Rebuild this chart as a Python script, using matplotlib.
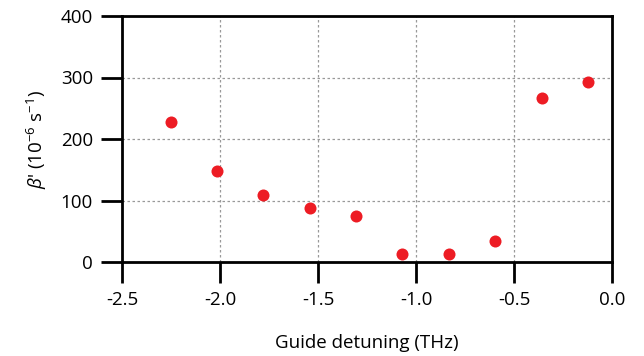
import matplotlib
matplotlib.use("Agg")
import matplotlib.pyplot as plt

detuning = [-2.25, -2.015, -1.779, -1.542, -1.306, -1.07, -0.833, -0.597, -0.359, -0.122]
beta = [228, 148, 109, 87, 75, 12.5, 12.5, 34, 266, 293]
xticks = [-2.5, -2.0, -1.5, -1.0, -0.5, 0.0]
yticks = [0, 100, 200, 300, 400]

plt.rcParams['font.family'] = ['Open Sans', 'DejaVu Sans']
plt.rcParams['mathtext.fontset'] = 'custom'
plt.rcParams['mathtext.rm'] = 'Open Sans'
plt.rcParams['mathtext.it'] = 'Open Sans:italic'

fig = plt.figure(figsize=(6.44, 3.56), dpi=100)
ax = fig.add_axes([122/644, 1-262/356, (612-122)/644, (262-16)/356])
ax.scatter(detuning, beta, s=75, color='#ED1C24', zorder=3, linewidths=0)
ax.set_xlim(-2.5, 0.0)
ax.set_ylim(0, 400)
ax.set_xticks(xticks)
ax.set_xticklabels([f"{t:.1f}" for t in xticks])
ax.set_yticks(yticks)
ax.grid(True, linestyle=(0, (2, 2)), color='#999999', linewidth=0.9)
for s in ax.spines.values():
    s.set_linewidth(2)
ax.tick_params(direction='out', length=15, width=2, labelsize=13.5, pad=6)
ax.set_xlabel("Guide detuning (THz)", fontsize=13.5, labelpad=18)
ax.set_ylabel(r"$\beta$' (10$^{-6}$ s$^{-1}$)", fontsize=13.5, labelpad=8)
fig.savefig("out.png", dpi=100)
